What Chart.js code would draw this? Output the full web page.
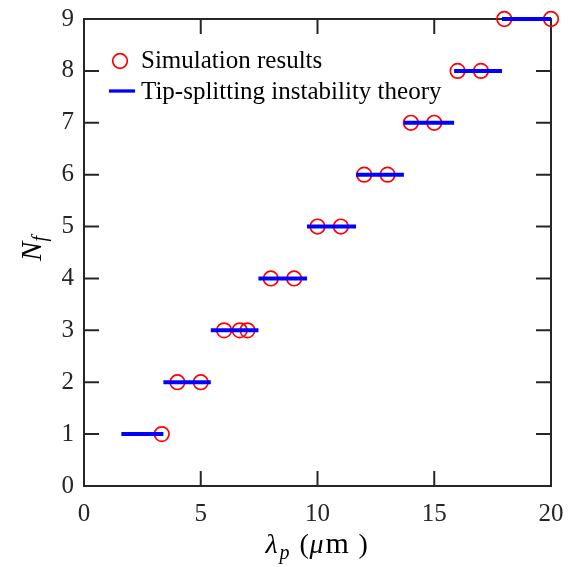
<!DOCTYPE html>
<html>
<head>
<meta charset="utf-8">
<script src="https://cdn.jsdelivr.net/npm/chart.js@4"></script>
<style>
  body { margin: 0; background: #fff; }
  #wrap { width: 572px; height: 567px; }
</style>
</head>
<body>
<div id="wrap"><canvas id="nfChart"></canvas></div>
<script>
// simulation results (circles)
const simLambda = [3.33, 4, 5, 6, 6.67, 7, 8, 9, 10, 11, 12, 13, 14, 15, 16, 17, 18, 20];
const simN = [1, 2, 2, 3, 3, 3, 4, 4, 5, 5, 6, 6, 7, 7, 8, 8, 9, 9];

// tip-splitting instability theory (horizontal steps)
const stepN = [1, 2, 3, 4, 5, 6, 7, 8, 9];
const stepStart = [1.6, 3.4, 5.43, 7.47, 9.55, 11.65, 13.7, 15.85, 17.9];
const stepEnd = [3.4, 5.43, 7.47, 9.55, 11.65, 13.7, 15.85, 17.9, 20];

const xTicks = [0, 5, 10, 15, 20];
const yTicks = [0, 1, 2, 3, 4, 5, 6, 7, 8, 9];

const axisColor = '#262626';
const serif = '"Liberation Serif", "Times New Roman", serif';

// one dataset per step so the segments stay separate
const stepSets = stepN.map((n, i) => ({
  label: 'Tip-splitting instability theory',
  type: 'line',
  data: [{ x: stepStart[i], y: n }, { x: stepEnd[i], y: n }],
  borderColor: '#0000ff',
  borderWidth: 4,
  pointRadius: 0,
  fill: false,
  clip: false
}));

const simSet = {
  label: 'Simulation results',
  type: 'scatter',
  data: simLambda.map((x, i) => ({ x: x, y: simN[i] })),
  borderColor: '#ff0000',
  backgroundColor: 'rgba(0,0,0,0)',
  borderWidth: 1.7,
  pointRadius: 7.3,
  pointStyle: 'circle',
  clip: false
};

// box and inward ticks, like the matlab axes
const axesBox = {
  id: 'axesBox',
  beforeDatasetsDraw(chart) {
    const { ctx, chartArea: a, scales } = chart;
    const len = 15;
    ctx.save();
    ctx.strokeStyle = axisColor;
    ctx.lineWidth = 2;
    ctx.strokeRect(a.left, a.top, a.right - a.left, a.bottom - a.top);
    ctx.beginPath();
    xTicks.forEach(v => {
      const px = scales.x.getPixelForValue(v);
      ctx.moveTo(px, a.bottom); ctx.lineTo(px, a.bottom - len);
      ctx.moveTo(px, a.top); ctx.lineTo(px, a.top + len);
    });
    yTicks.forEach(v => {
      const py = scales.y.getPixelForValue(v);
      ctx.moveTo(a.left, py); ctx.lineTo(a.left + len, py);
      ctx.moveTo(a.right, py); ctx.lineTo(a.right - len, py);
    });
    ctx.stroke();
    ctx.restore();
  },
  afterDraw(chart) {
    const { ctx, chartArea: a } = chart;
    ctx.save();
    ctx.fillStyle = '#000';
    ctx.textBaseline = 'alphabetic';

    // legend
    ctx.font = '25px ' + serif;
    ctx.strokeStyle = '#ff0000';
    ctx.lineWidth = 1.7;
    ctx.beginPath();
    ctx.arc(120, 61, 7.3, 0, Math.PI * 2);
    ctx.stroke();
    ctx.fillText('Simulation results', 141, 68);
    ctx.strokeStyle = '#0000ff';
    ctx.lineWidth = 3.3;
    ctx.beginPath();
    ctx.moveTo(109, 91); ctx.lineTo(135, 91);
    ctx.stroke();
    ctx.fillText('Tip-splitting instability theory', 141, 99);

    // x label: lambda_p (mu m), pieces placed around the axis centre
    const cx = (a.left + a.right) / 2;
    const parts = [
      { t: '\u03bb', f: 'italic 28px ' + serif, dx: -52, dy: 0 },
      { t: 'p', f: 'italic 20px ' + serif, dx: -38, dy: 6 },
      { t: '(', f: '28px ' + serif, dx: -18, dy: 0 },
      { t: '\u03bc', f: 'italic 28px ' + serif, dx: -8, dy: 0 },
      { t: 'm', f: '30px ' + serif, dx: 8, dy: 0 },
      { t: ')', f: '28px ' + serif, dx: 41, dy: 0 }
    ];
    parts.forEach(p => {
      ctx.font = p.f;
      ctx.fillText(p.t, cx + p.dx, 553 + p.dy);
    });

    // y label: N_f
    ctx.translate(41, (a.top + a.bottom) / 2 - 4);
    ctx.rotate(-Math.PI / 2);
    ctx.font = 'italic 29px ' + serif;
    const nw = ctx.measureText('N').width;
    ctx.font = 'italic 20px ' + serif;
    const fw = ctx.measureText('f').width;
    let yx = -(nw + fw) / 2;
    ctx.font = 'italic 29px ' + serif;
    ctx.fillText('N', yx, 0);
    ctx.font = 'italic 20px ' + serif;
    ctx.fillText('f', yx + nw, 5);
    ctx.restore();
  }
};

const ctx = document.getElementById('nfChart').getContext('2d');
const chart = new Chart(ctx, {
  data: { datasets: stepSets.concat([simSet]) },
  options: {
    responsive: true,
    maintainAspectRatio: false,
    animation: false,
    layout: { padding: { top: 19, right: 21, left: 0, bottom: 0 } },
    plugins: { legend: { display: false }, tooltip: { enabled: false } },
    scales: {
      x: {
        type: 'linear',
        min: 0,
        max: 20,
        afterBuildTicks: s => { s.ticks = xTicks.map(v => ({ value: v })); },
        ticks: { font: { family: serif, size: 25 }, color: axisColor, padding: 13, maxRotation: 0 },
        grid: { display: false, drawTicks: false },
        border: { display: false },
        afterFit: s => { s.height = 81; s.paddingLeft = 0; s.paddingRight = 0; }
      },
      y: {
        type: 'linear',
        min: 0,
        max: 9,
        afterBuildTicks: s => { s.ticks = yTicks.map(v => ({ value: v })); },
        ticks: { font: { family: serif, size: 25 }, color: axisColor, padding: 10 },
        grid: { display: false, drawTicks: false },
        border: { display: false },
        afterFit: s => { s.width = 84; s.paddingTop = 0; s.paddingBottom = 0; }
      }
    }
  },
  plugins: [axesBox]
});
</script>
</body>
</html>
